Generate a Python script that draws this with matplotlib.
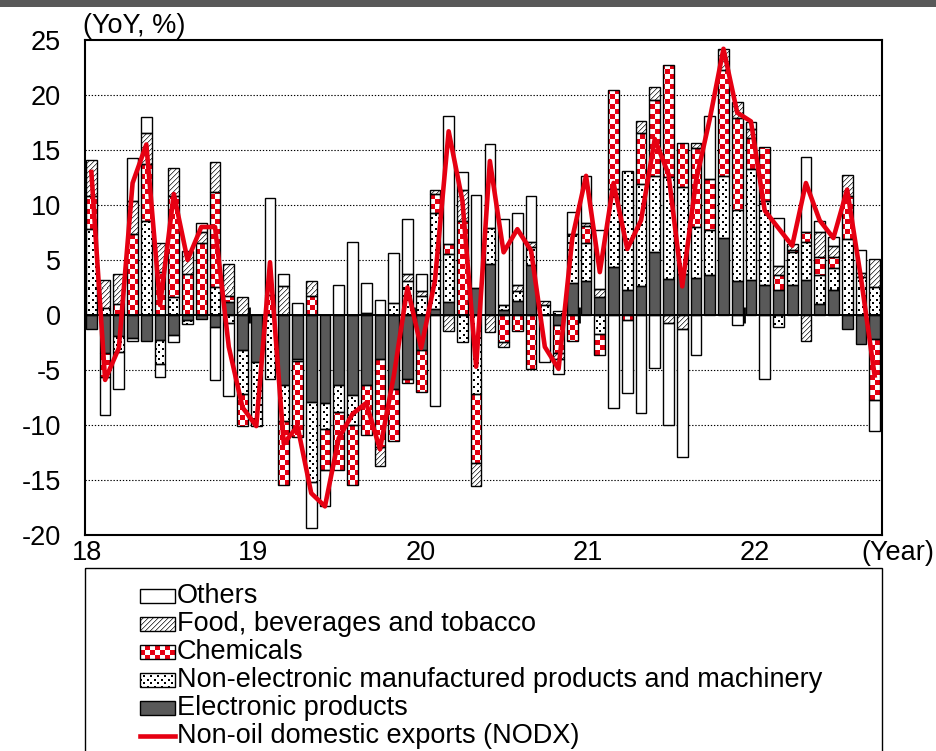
import numpy as np
import matplotlib
matplotlib.use("Agg")
import matplotlib.pyplot as plt
from matplotlib.path import Path
from matplotlib.patches import Rectangle
from matplotlib.lines import Line2D

plt.rcParams['font.family'] = ['Liberation Sans', 'DejaVu Sans']

# ---- data: monthly YoY contributions (% pts), Jan 2018 - Oct 2022 ----
months = [f"{y}-{m:02d}" for y in range(2018, 2023) for m in range(1, 13)][:58]

electronics = [-1.25, -3.5, -1.9, -2.1, -2.4, -2.3, -1.8, -0.45, -0.35, -1.05,
               1.15, -3.2, -4.3, 0.0, -6.4, -4.0, -7.9, -8.0, -6.4, -7.3,
               -6.4, -4.0, -6.7, -5.8, -3.2, 0.55, 1.15, 0.0, 2.45, 4.65,
               0.45, 1.3, 4.5, 0.0, -0.95, 2.95, 3.05, 1.65, 4.4, 2.3,
               2.6, 5.7, 3.3, 3.7, 3.35, 3.65, 7.0, 3.05, 3.2, 2.7,
               2.3, 2.75, 3.15, 1.0, 2.3, -1.25, -2.6, -2.15]
non_electronic = [7.8, 0.6, -1.5, -0.3, 8.5, -2.15, 1.6, -0.4, 0.0, 2.5,
                  -0.75, -4.0, -5.8, -5.8, -3.2, -0.2, -7.3, -2.35, -2.4, -2.7,
                  0.0, 0.0, 1.1, 3.1, 1.75, 8.75, 4.35, -2.45, -7.15, 3.25,
                  0.5, 0.9, 1.65, 0.9, 0.35, 4.45, 3.45, -1.7, 7.05, 10.8,
                  9.3, 6.95, 9.2, 7.9, 4.65, 4.05, 5.65, 6.45, 10.05, 7.7,
                  -1.05, 2.95, 3.45, 2.6, 1.95, 6.9, 3.45, 2.5]
chemicals = [3.05, -2.15, 1.0, 7.35, 5.2, 3.9, 9.25, 3.75, 6.5, 8.7,
             0.55, -2.85, 0.0, 1.8, -5.9, -6.9, 1.75, -3.7, -5.3, -5.5,
             -4.55, -8.0, -4.75, -0.4, -3.8, 1.7, 0.95, 8.55, -6.35, 0.0,
             -2.5, -1.5, -4.9, 0.0, -2.55, -2.4, 1.6, -1.95, 9.0, -0.45,
             4.6, 6.85, 10.2, 4.0, 7.2, 4.7, 9.6, 8.45, 2.85, 4.85,
             1.3, 0.2, 0.9, 1.65, 1.0, 3.95, 0.0, -5.55]
food = [3.25, 2.6, 2.7, 3.05, 2.8, 2.6, 2.55, 2.05, 1.0, 2.75,
        2.95, 1.6, 0.0, 0.0, 2.6, 0.0, 1.35, 0.0, 0.0, 0.0,
        0.2, -1.75, 0.0, 0.6, 0.4, 0.35, -1.5, 2.8, -2.05, -1.55,
        -0.4, 0.55, 0.45, 0.35, -0.5, 0.0, 0.3, 0.7, 0.0, 0.0,
        1.15, 1.25, -0.75, -1.25, 0.4, 0.0, 1.9, 1.4, 0.8, 0.0,
        0.85, 0.55, -2.4, 2.25, 1.05, 1.85, 0.35, 2.55]
others = [0.0, -3.45, -3.3, 3.85, 1.5, -1.2, -0.7, 0.0, 0.9, -4.9,
          -6.65, 0.0, 0.0, 8.8, 1.15, 1.07, -4.15, -3.35, 2.7, 6.6,
          2.7, 1.4, 4.5, 5.0, 1.6, -8.3, 11.65, 1.65, 8.45, 7.6,
          7.75, 6.5, 4.2, -4.3, -1.35, 1.95, 4.25, 5.35, -8.5, -6.6,
          -8.9, -4.8, -9.25, -11.65, -3.6, 5.7, 0.0, -0.95, 0.65, -5.8,
          4.35, 0.0, 6.9, 1.05, 0.75, 0.0, 2.1, -2.85]
nodx = [13.0, -5.9, -3.0, 12.0, 15.5, 0.9, 11.0, 5.0, 8.0, 8.0,
        -2.9, -8.4, -10.1, 4.8, -11.7, -10.1, -16.2, -17.4, -11.2, -9.0,
        -8.0, -12.2, -5.6, 2.5, -3.0, 3.1, 16.7, 10.4, -4.7, 14.0,
        5.7, 7.8, 5.85, -2.9, -4.9, 7.0, 12.65, 3.9, 12.0, 6.0,
        8.6, 16.0, 12.8, 2.6, 12.2, 17.8, 24.2, 18.4, 17.6, 9.5,
        7.9, 6.3, 12.0, 8.6, 7.0, 11.4, 3.4, -5.5]

year_labels = ["18", "19", "20", "21", "22"]
yticks = list(range(-20, 30, 5))

RED = "#E60012"
DARK = "#595959"
FS = 19.5

# ---- figure geometry (pixels) ----
W, H = 936, 751
fig = plt.figure(figsize=(W / 100, H / 100), dpi=100)
fig.patch.set_facecolor("white")

ax_l, ax_r, ax_t, ax_b = 84.5, 881.5, 40.0, 535.0
ax = fig.add_axes([ax_l / W, 1 - ax_b / H, (ax_r - ax_l) / W, (ax_b - ax_t) / H])
n = len(months)
x = np.arange(n) + 0.5
bw = 0.78


# ---- fill patterns, built at screen resolution ----
def grid(h, w):
    return np.arange(h)[:, None], np.arange(w)[None, :]


def checker_img(h, w, cell=5):
    r, c = grid(h, w)
    img = np.ones((h, w, 3))
    img[((r // cell + c // cell) % 2) == 0] = matplotlib.colors.to_rgb(RED)
    return img


def dots_img(h, w, p=7):
    r, c = grid(h, w)
    m = ((r % p < 2) & (c % p < 2)) | (((r + 4) % p < 2) & ((c + 4) % p < 2))
    img = np.ones((h, w, 3))
    img[m] = 0.0
    return img


def diag_img(h, w):
    r, c = grid(h, w)
    img = np.ones((h, w, 3))
    img[(r + c) % 5 == 0] = 0.3
    img[(r + c) % 5 == 1] = 0.78
    return img


def rects_path(xs, bottoms, heights, width):
    verts, codes = [], []
    for xc, b, hgt in zip(xs, bottoms, heights):
        if hgt == 0:
            continue
        x0, x1 = xc - width / 2, xc + width / 2
        verts += [(x0, b), (x1, b), (x1, b + hgt), (x0, b + hgt), (x0, b)]
        codes += [Path.MOVETO, Path.LINETO, Path.LINETO, Path.LINETO, Path.CLOSEPOLY]
    return Path(verts, codes)


# ---- diverging stacked bars ----
series = [
    ("Electronic products", electronics, "solid"),
    ("Non-electronic manufactured products and machinery", non_electronic, "dots"),
    ("Chemicals", chemicals, "checker"),
    ("Food, beverages and tobacco", food, "diag"),
    ("Others", others, "white"),
]

pos_base = np.zeros(n)
neg_base = np.zeros(n)
pw = int(round(ax_r - ax_l))
ph = int(round(ax_b - ax_t))
pattern_makers = {"dots": dots_img, "checker": checker_img, "diag": diag_img}

for name, vals, style in series:
    v = np.asarray(vals, dtype=float)
    bottoms = np.where(v >= 0, pos_base, neg_base)
    pos_base = pos_base + np.where(v >= 0, v, 0)
    neg_base = neg_base + np.where(v < 0, v, 0)
    keep = v != 0
    face = DARK if style == "solid" else "white"
    ax.bar(x[keep], v[keep], bottom=bottoms[keep], width=bw, color=face,
           edgecolor="none", zorder=2)
    if style in pattern_makers:
        im = ax.imshow(pattern_makers[style](ph, pw), extent=(0, n, -20, 25),
                       origin="upper", interpolation="nearest", aspect="auto",
                       zorder=2.2)
        im.set_clip_path(rects_path(x, bottoms, v, bw), ax.transData)
    ax.bar(x[keep], v[keep], bottom=bottoms[keep], width=bw, fill=False,
           edgecolor="black", linewidth=1.0, zorder=3)

# NODX line
ax.plot(x, nodx, color=RED, lw=3.3, zorder=5, solid_joinstyle="round")

# axes cosmetics
ax.set_xlim(0, n)
ax.set_ylim(-20, 25)
for yv in yticks:
    if yv not in (-20, 0, 25):
        ax.axhline(yv, color="black", lw=0.8, ls=(0, (1.2, 1.6)), zorder=1)
ax.axhline(0, color="black", lw=1.4, zorder=3.5)
ax.vlines([12, 24, 36, 48], -0.7, 0.7, color="black", lw=2.0, zorder=1.5)
for s in ax.spines.values():
    s.set_linewidth(1.5)
    s.set_color("black")
ax.set_yticks(yticks)
ax.set_yticklabels([str(t) for t in yticks], fontsize=FS)
ax.tick_params(axis="y", length=0, pad=17)
ax.set_xticks([])

# ---- overlay in pixel coordinates for labels and legend ----
ov = fig.add_axes([0, 0, 1, 1], zorder=10)
ov.set_xlim(0, W)
ov.set_ylim(H, 0)
ov.axis("off")
ov.patch.set_alpha(0)

ov.add_patch(Rectangle((0, 0), W, 7, color=DARK, lw=0))
ov.text(83, 26, "(YoY, %)", fontsize=FS, ha="left", va="center")
for lab, px in zip(year_labels, [87, 253, 421, 588, 755]):
    ov.text(px, 553, lab, fontsize=FS, ha="center", va="center")
ov.text(898, 553, "(Year)", fontsize=FS, ha="center", va="center")

# legend box
ov.add_patch(Rectangle((85, 568), 797, 200, fill=False, ec="black", lw=1.0,
                       clip_on=False))
legend_rows = ["Others", "Food, beverages and tobacco", "Chemicals",
               "Non-electronic manufactured products and machinery",
               "Electronic products", "Non-oil domestic exports (NODX)"]
legend_style = ["white", "diag", "checker", "dots", "solid", "line"]
row_y = [596 + 28 * k for k in range(len(legend_rows))]
for lab, style, yc in zip(legend_rows, legend_style, row_y):
    if style == "line":
        ov.add_line(Line2D([140, 175], [yc, yc], color=RED, lw=3.3))
    else:
        face = DARK if style == "solid" else "white"
        ov.add_patch(Rectangle((140, yc - 7), 35, 14, fc=face, ec="none"))
        if style in pattern_makers:
            im = ov.imshow(pattern_makers[style](H, W), extent=(0, W, H, 0),
                           origin="upper", interpolation="nearest", aspect="auto",
                           zorder=2)
            im.set_clip_path(rects_path([157.5], [yc - 7], [14], 35), ov.transData)
        ov.add_patch(Rectangle((140, yc - 7), 35, 14, fill=False, ec="black",
                               lw=1.0, zorder=3))
    ov.text(177, yc, lab, fontsize=FS, ha="left", va="center")
ov.set_xlim(0, W)
ov.set_ylim(H, 0)

fig.savefig("out.png", dpi=100)
